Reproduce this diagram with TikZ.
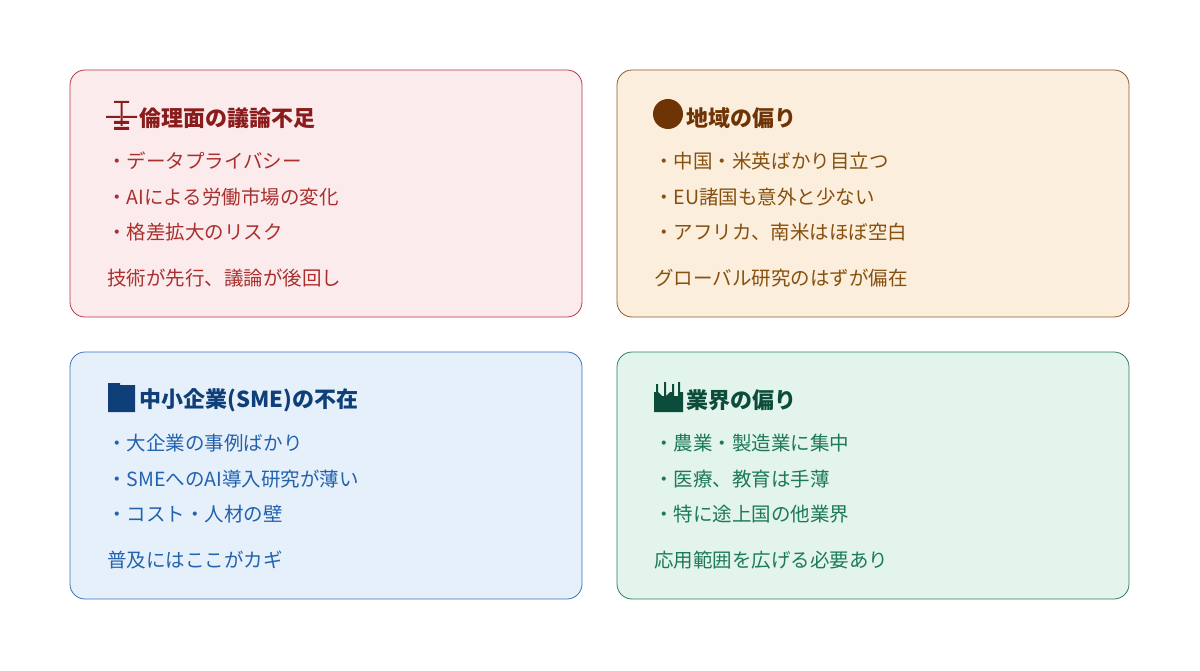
\documentclass[tikz,border=0pt]{standalone}
\usepackage{fontspec}
\setmainfont{Noto Sans CJK JP}
\usetikzlibrary{positioning}
\definecolor{redfill}{HTML}{FCEBEC}\definecolor{redline}{HTML}{B53848}
\definecolor{redtitle}{HTML}{8A1C1C}\definecolor{redtext}{HTML}{A8302E}
\definecolor{orfill}{HTML}{FBEEDC}\definecolor{orline}{HTML}{8E5A2A}
\definecolor{ortitle}{HTML}{6E3406}\definecolor{ortext}{HTML}{86500F}
\definecolor{blfill}{HTML}{E6F0FA}\definecolor{blline}{HTML}{3773C0}
\definecolor{bltitle}{HTML}{0F3F78}\definecolor{bltext}{HTML}{2262AE}
\definecolor{grfill}{HTML}{E2F4EC}\definecolor{grline}{HTML}{2F7E5C}
\definecolor{grtitle}{HTML}{0B4D3A}\definecolor{grtext}{HTML}{1D7A56}
\tikzset{
  panel/.style={draw=#1line, fill=#1fill, rounded corners=15pt, line width=0.8pt},
  ptitle/.style={anchor=west, inner sep=0pt, font=\fontsize{22}{26}\selectfont\bfseries},
  pitem/.style={anchor=west, inner sep=0pt, font=\fontsize{19.5}{23}\selectfont},
}
\newcommand{\panel}[8]{%
  \draw[panel=#1] (#2,#3) rectangle ++(512,247);
  \node[ptitle, text=#1title] (#1t) at (#2+69,#3+48) {#4};
  \node[pitem, text=#1text] (#1a) at (#2+37,#3+91) {・#5};
  \node[pitem, text=#1text] (#1b) at (#2+37,#3+127) {・#6};
  \node[pitem, text=#1text] (#1c) at (#2+37,#3+162) {・#7};
  \node[pitem, text=#1text] (#1d) at (#2+37,#3+208) {#8};
}
\begin{document}
\begin{tikzpicture}[x=1pt,y=-1pt]
\useasboundingbox[fill=white] (0,0) rectangle (1200,671);
\panel{red}{70}{70}{倫理面の議論不足}{データプライバシー}{AIによる労働市場の変化}{格差拡大のリスク}{技術が先行、議論が後回し}
\panel{or}{617}{70}{地域の偏り}{中国・米英ばかり目立つ}{EU諸国も意外と少ない}{アフリカ、南米はほぼ空白}{グローバル研究のはずが偏在}
\panel{bl}{70}{352}{中小企業(SME)の不在}{大企業の事例ばかり}{SMEへのAI導入研究が薄い}{コスト・人材の壁}{普及にはここがカギ}
\panel{gr}{617}{352}{業界の偏り}{農業・製造業に集中}{医療、教育は手薄}{特に途上国の他業界}{応用範囲を広げる必要あり}
% icons
\fill[redtitle] (114,101) rectangle (129,103) (120.5,103) rectangle (122.5,126)
  (106,116) rectangle (120,118) (123,116) rectangle (137,118)
  (114,121) rectangle (129,124) (114,127) rectangle (129,130);
\fill[ortitle] (668,114) circle (15);
\fill[bltitle] (108,385) rectangle (135,412) (108,383) rectangle (120,386);
\fill[grtitle] (654,412) -- (654,392) -- (656,392) -- (656,384) -- (658,384) -- (658,392)
  -- (662,396) -- (664,396) -- (664,382) -- (666,382) -- (666,396) -- (670,392)
  -- (672,392) -- (672,384) -- (674,384) -- (674,396) -- (678,396) -- (678,382)
  -- (680,382) -- (680,392) -- (683,392) -- (683,412) -- cycle;
\end{tikzpicture}
\end{document}
